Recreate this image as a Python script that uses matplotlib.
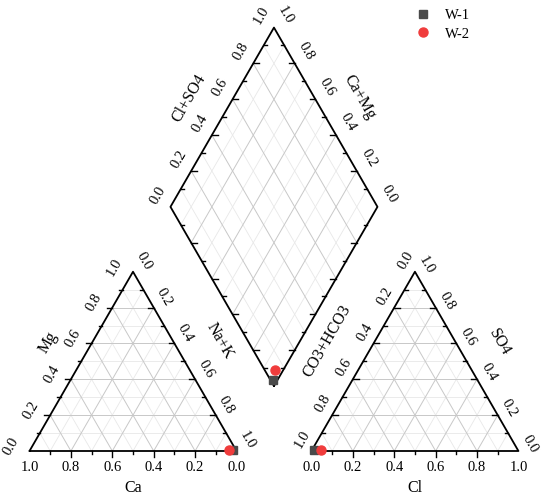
import numpy as np
import matplotlib.pyplot as plt
from matplotlib.lines import Line2D

plt.rcParams['font.family'] = ['Liberation Serif', 'DejaVu Serif']

# sample composition (fractions of meq)
samples = ["W-1", "W-2"]
ca = [0.016, 0.035]
mg = [0.004, 0.006]
nak = [0.980, 0.959]
cl = [0.010, 0.044]
so4 = [0.005, 0.004]
hco3 = [0.985, 0.952]
markers = ["s", "o"]
colors = ["#4a4a4a", "#f03c3c"]
tick_vals = [0.0, 0.2, 0.4, 0.6, 0.8, 1.0]

H = np.sqrt(3) / 2
GAP = 0.362
OX = 1 + GAP
B = np.array([1 + GAP / 2, GAP * H])
U = np.array([0.5, H])
W = np.array([-0.5, H])


def cat_xy(m, n):
    return n + 0.5 * m, H * m


def an_xy(s, c):
    return OX + c + 0.5 * s, H * s


def dia_xy(a, c):
    p = B + a * U + c * W
    return p[0], p[1]


fig = plt.figure(figsize=(5.5, 4.98), dpi=100)
ax = fig.add_axes([0, 0, 1, 1])
ax.set_xlim(-29.5 / 207, (550 - 29.5) / 207)
ax.set_ylim(-47 / 207, 451 / 207)
ax.axis("off")


def seg(p, q, **kw):
    ax.plot([p[0], q[0]], [p[1], q[1]], **kw)


major = dict(color="#c8c8c8", lw=0.7, zorder=1)
minor = dict(color="#e8e8e8", lw=0.6, zorder=0.5)
edge = dict(color="black", lw=1.3, zorder=3, solid_capstyle="round")

# grid lines
for i in range(1, 10):
    v = i / 10
    st = major if i % 2 == 0 else minor
    # cation triangle
    seg(cat_xy(v, 0), cat_xy(v, 1 - v), **st)
    seg(cat_xy(0, v), cat_xy(1 - v, v), **st)
    seg(cat_xy(0, 1 - v), cat_xy(1 - v, 0), **st)
    # anion triangle
    seg(an_xy(v, 0), an_xy(v, 1 - v), **st)
    seg(an_xy(0, v), an_xy(1 - v, v), **st)
    seg(an_xy(0, 1 - v), an_xy(1 - v, 0), **st)
    # diamond
    seg(dia_xy(v, 0), dia_xy(v, 1), **st)
    seg(dia_xy(0, v), dia_xy(1, v), **st)

# outlines
for pts in ([cat_xy(0, 0), cat_xy(0, 1), cat_xy(1, 0), cat_xy(0, 0)],
            [an_xy(0, 0), an_xy(0, 1), an_xy(1, 0), an_xy(0, 0)],
            [dia_xy(0, 0), dia_xy(1, 0), dia_xy(1, 1), dia_xy(0, 1), dia_xy(0, 0)]):
    xs, ys = zip(*pts)
    ax.plot(xs, ys, **edge)

# ticks
for i in range(1, 10):
    v = i / 10
    L = 0.028 if i % 2 == 0 else 0.016
    tk = dict(color="black", lw=1.0, zorder=3)
    x, y = cat_xy(0, 1 - v)
    seg((x, y), (x, y - L), **tk)
    x, y = cat_xy(v, 0)
    seg((x, y), (x - L, y), **tk)
    x, y = cat_xy(1 - v, v)
    seg((x, y), (x - L, y), **tk)
    x, y = an_xy(0, v)
    seg((x, y), (x, y - L), **tk)
    x, y = an_xy(1 - v, 0)
    seg((x, y), (x + L, y), **tk)
    x, y = an_xy(v, 1 - v)
    seg((x, y), (x - L, y), **tk)
    x, y = dia_xy(v, 1)
    seg((x, y), (x + L, y), **tk)
    x, y = dia_xy(1, v)
    seg((x, y), (x - L, y), **tk)
    x, y = dia_xy(0, v)
    seg((x, y), (x + L, y), **tk)
    x, y = dia_xy(v, 0)
    seg((x, y), (x - L, y), **tk)

nL = np.array([-H, 0.5])
nR = np.array([H, 0.5])
fs = 10.5
lab = dict(fontsize=fs, ha="center", va="center")

for v in tick_vals:
    t = f"{v:.1f}"
    # cation triangle
    x, y = cat_xy(0, 1 - v)
    ax.text(x, y - 0.08, t, **lab)
    p = np.array(cat_xy(v, 0)) + 0.09 * nL - 0.025 * U
    ax.text(p[0], p[1], t, rotation=60, **lab)
    p = np.array(cat_xy(1 - v, v)) + 0.07 * nR + 0.018 * W
    ax.text(p[0], p[1], t, rotation=-60, **lab)
    # anion triangle
    x, y = an_xy(0, v)
    ax.text(x, y - 0.08, t, **lab)
    p = np.array(an_xy(1 - v, 0)) + 0.065 * nL + 0.027 * U
    ax.text(p[0], p[1], t, rotation=60, **lab)
    p = np.array(an_xy(v, 1 - v)) + 0.065 * nR
    ax.text(p[0], p[1], t, rotation=-60, **lab)
    # diamond
    p = np.array(dia_xy(v, 1)) + 0.08 * nL + 0.02 * U
    ax.text(p[0], p[1], t, rotation=60, **lab)
    p = np.array(dia_xy(1, v)) + 0.08 * nR + 0.024 * W
    ax.text(p[0], p[1], t, rotation=-60, **lab)

tfs = 11.5
ttl = dict(fontsize=tfs, ha="center", va="center")
p = np.array(cat_xy(0.5, 0)) + 0.185 * nL
ax.text(p[0], p[1], "Mg", rotation=60, **ttl)
p = np.array(cat_xy(0.5, 0.5)) + 0.195 * nR
ax.text(p[0], p[1], "Na+K", rotation=-60, **ttl)
ax.text(0.5, -0.18, "Ca", **ttl)
ax.text(OX + 0.5, -0.18, "Cl", **ttl)
p = np.array(an_xy(0.5, 0)) + 0.2 * nL
ax.text(p[0], p[1], "CO3+HCO3", rotation=60, **ttl)
p = np.array(an_xy(0.5, 0.5)) + 0.185 * nR
ax.text(p[0], p[1], "SO4", rotation=-60, **ttl)
p = np.array(dia_xy(0.5, 1)) + 0.185 * nL
ax.text(p[0], p[1], "Cl+SO4", rotation=60, **ttl)
p = np.array(dia_xy(1, 0.5)) + 0.19 * nR
ax.text(p[0], p[1], "Ca+Mg", rotation=-60, **ttl)

# data points
handles = []
for i, name in enumerate(samples):
    ms = 6.5 if markers[i] == "o" else 5.5
    kw = dict(marker=markers[i], color=colors[i], ms=ms, ls="none", zorder=5, clip_on=False)
    cx, cy = cat_xy(mg[i], nak[i])
    axx, ayy = an_xy(so4[i], cl[i])
    dx, dy = dia_xy(cl[i] + so4[i], ca[i] + mg[i])
    ax.plot([cx, axx, dx], [cy, ayy, dy], **kw)
    handles.append(Line2D([], [], marker=markers[i], color=colors[i], ms=ms, ls="none"))

fig.legend(handles, samples, loc="upper left", bbox_to_anchor=(416 / 550, 1 - 9 / 498),
           frameon=False, fontsize=10.5, handlelength=1.0, handletextpad=1.0,
           borderpad=0, borderaxespad=0, labelspacing=0.35)

fig.savefig("out.png", dpi=100)
